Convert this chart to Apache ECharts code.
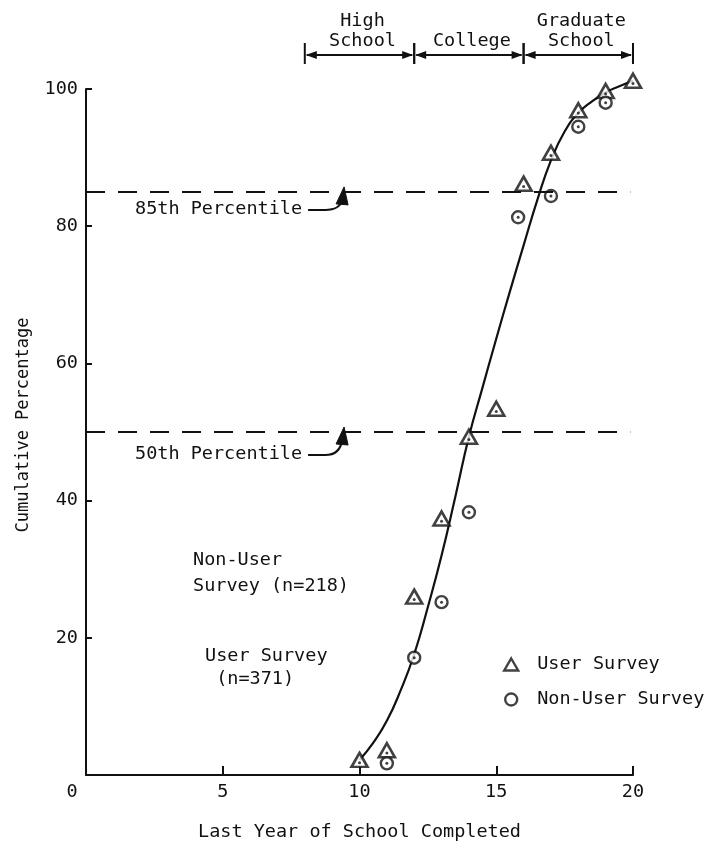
<!DOCTYPE html>
<html>
<head>
<meta charset="utf-8">
<script src="https://cdn.jsdelivr.net/npm/echarts@6/dist/echarts.min.js"></script>
<style>
  html, body { margin: 0; padding: 0; background: #fff; }
  #chart { width: 710px; height: 848px; }
</style>
</head>
<body>
<div id="chart"></div>
<script>
// Cumulative percentage of respondents by last year of school completed
const xTicks = [0, 5, 10, 15, 20];
const yTicks = [0, 20, 40, 60, 80, 100];

const userYears = [10, 11, 12, 13, 14, 15, 16, 17, 18, 19, 20];
const userPct   = [2.2, 3.6, 26.0, 37.4, 49.3, 53.4, 86.2, 90.7, 96.9, 99.7, 101.2];

const nonUserYears = [11, 12, 13, 14, 15.8, 17, 18, 19];
const nonUserPct   = [1.7, 17.1, 25.2, 38.3, 81.3, 84.4, 94.5, 98.0];

// hand-fitted cumulative curve
const curveYears = [10, 10.5, 11, 11.5, 12, 12.5, 13, 13.5, 14, 14.5, 15, 15.5, 16, 16.5, 17, 17.5, 18, 18.5, 19, 19.5, 20];
const curvePct   = [2.2, 4.7, 7.9, 12.3, 17.6, 24.5, 32.0, 40.5, 49.3, 56.5, 63.6, 70.5, 77.2, 83.8, 89.6, 93.8, 96.5, 98.2, 99.5, 100.4, 101.2];

const percentiles = [85, 50];
const percentileLabelSuffix = 'th Percentile';

const schoolStages = ['High\nSchool', 'College', 'Graduate\nSchool'];
const stageBounds  = [8, 12, 16, 20];

const FONT = 'DejaVu Sans Mono';
const FS = 18.5;
const INK = '#111';

const pairs = (xs, ys) => xs.map((x, i) => [x, ys[i]]);

const chart = echarts.init(document.getElementById('chart'));

const option = {
  backgroundColor: '#fff',
  animation: false,
  textStyle: { fontFamily: FONT, color: INK },
  grid: { left: 86, right: 77, top: 89, bottom: 73 },
  xAxis: {
    type: 'value', min: 0, max: 20, interval: 5,
    name: 'Last Year of School Completed',
    nameLocation: 'middle', nameGap: 48,
    nameTextStyle: { fontFamily: FONT, fontSize: FS, color: INK },
    axisLine: { show: true, onZero: false, lineStyle: { color: INK, width: 2 } },
    axisTick: { show: true, inside: true, length: 9, lineStyle: { color: INK, width: 2 } },
    axisLabel: {
      fontFamily: FONT, fontSize: FS, color: INK, margin: 8,
      formatter: v => (v === 0 ? '{o|0}' : String(v)),
      rich: { o: { fontFamily: FONT, fontSize: FS, color: INK, padding: [0, 28, 4, 0] } }
    },
    splitLine: { show: false }
  },
  yAxis: {
    type: 'value', min: 0, max: 100, interval: 20,
    name: 'Cumulative Percentage',
    nameLocation: 'middle', nameGap: 54, nameRotate: 90,
    nameTextStyle: { fontFamily: FONT, fontSize: 17, color: INK, padding: [0, 0, 0, 14] },
    axisLine: { show: true, onZero: false, lineStyle: { color: INK, width: 2 } },
    axisTick: { show: true, inside: true, length: 6, lineStyle: { color: INK, width: 2 } },
    axisLabel: {
      fontFamily: FONT, fontSize: FS, color: INK, margin: 8,
      formatter: v => (v === 0 ? '' : String(v))
    },
    splitLine: { show: false }
  },
  legend: {
    orient: 'vertical', left: 498, top: 650,
    itemWidth: 14, itemHeight: 12, itemGap: 16,
    data: ['User Survey', 'Non-User Survey'],
    textStyle: { fontFamily: FONT, fontSize: FS, color: INK, padding: [0, 0, 0, 14] },
    itemStyle: { borderWidth: 2.4, borderColor: INK, color: '#fff' }
  },
  series: [
    {
      name: 'curve',
      type: 'line',
      data: pairs(curveYears, curvePct),
      smooth: 0.5,
      showSymbol: false,
      clip: false,
      lineStyle: { color: INK, width: 2.2 },
      z: 2
    },
    {
      name: 'User Survey',
      type: 'scatter',
      data: pairs(userYears, userPct),
      symbol: 'triangle', symbolSize: [16, 14],
      clip: false,
      itemStyle: { color: '#fff', borderColor: INK, borderWidth: 2.6 },
      z: 4
    },
    {
      name: 'Non-User Survey',
      type: 'scatter',
      data: pairs(nonUserYears, nonUserPct),
      symbol: 'circle', symbolSize: 12,
      clip: false,
      itemStyle: { color: '#fff', borderColor: INK, borderWidth: 2.4 },
      z: 4
    },
    {
      name: 'user-centres',
      type: 'scatter',
      data: pairs(userYears, userPct).map(([x, y]) => [x, y - 0.4]),
      symbol: 'circle', symbolSize: 3,
      clip: false,
      itemStyle: { color: INK },
      z: 5
    },
    {
      name: 'nonuser-centres',
      type: 'scatter',
      data: pairs(nonUserYears, nonUserPct),
      symbol: 'circle', symbolSize: 3,
      clip: false,
      itemStyle: { color: INK },
      z: 5
    },
    {
      // percentile reference lines with their callouts
      name: 'percentiles',
      type: 'custom',
      clip: false,
      data: percentiles.map(p => [p]),
      markLine: {
        silent: true,
        symbol: ['none', 'none'],
        label: { show: false },
        lineStyle: { color: INK, width: 2, type: [19, 13] },
        data: percentiles.map(p => [{ coord: [0, p] }, { coord: [19.9, p] }])
      },
      renderItem: (params, api) => {
        const p = api.value(0);
        const base = api.coord([0, p]);
        const arrowX = api.coord([9.4, p])[0];
        const y = base[1];
        const dy = p > 60 ? 17 : 22;
        const ty = y + dy;
        const children = [
          {
            type: 'text',
            style: {
              text: p + percentileLabelSuffix,
              x: base[0] + 49, y: ty,
              textAlign: 'left', textVerticalAlign: 'middle',
              fontFamily: FONT, fontSize: FS, fill: INK
            }
          },
          {
            type: 'path',
            shape: {
              pathData: 'M' + (arrowX - 35) + ' ' + (ty + 1) +
                ' L' + (arrowX - 18) + ' ' + (ty + 1) +
                ' Q' + (arrowX - 3) + ' ' + (ty + 1) + ' ' + (arrowX - 1) + ' ' + (y + 8)
            },
            style: { stroke: INK, lineWidth: 2, fill: null }
          },
          {
            type: 'polygon',
            shape: { points: [[arrowX + 1, y - 5], [arrowX - 7, y + 12], [arrowX + 5, y + 13]] },
            style: { fill: INK, stroke: INK, lineWidth: 1 }
          }
        ];
        return { type: 'group', children };
      },
      z: 3
    },
    {
      // schooling level brackets above the plot
      name: 'stages',
      type: 'custom',
      clip: false,
      data: schoolStages.map((s, i) => [stageBounds[i], stageBounds[i + 1]]),
      renderItem: (params, api) => {
        const i = params.dataIndex;
        const x0 = api.coord([api.value(0), 100])[0];
        const x1 = api.coord([api.value(1), 100])[0];
        const y = api.coord([0, 100])[1] - 34;
        const ah = 11, aw = 4;
        return {
          type: 'group',
          children: [
            { type: 'line', shape: { x1: x0 + 2, y1: y, x2: x1 - 2, y2: y }, style: { stroke: INK, lineWidth: 2 } },
            { type: 'polygon', shape: { points: [[x0 + 1, y], [x0 + 1 + ah, y - aw], [x0 + 1 + ah, y + aw]] }, style: { fill: INK } },
            { type: 'polygon', shape: { points: [[x1 - 1, y], [x1 - 1 - ah, y - aw], [x1 - 1 - ah, y + aw]] }, style: { fill: INK } },
            { type: 'line', shape: { x1: x0, y1: y - 12, x2: x0, y2: y + 9 }, style: { stroke: INK, lineWidth: 2 } },
            { type: 'line', shape: { x1: x1, y1: y - 12, x2: x1, y2: y + 9 }, style: { stroke: INK, lineWidth: 2 } },
            {
              type: 'text',
              style: {
                text: schoolStages[i],
                x: (x0 + x1) / 2 + 3, y: y - 4,
                textAlign: 'center', textVerticalAlign: 'bottom',
                lineHeight: 20,
                fontFamily: FONT, fontSize: FS, fill: INK
              }
            }
          ]
        };
      },
      z: 3
    }
  ],
  graphic: [
    {
      type: 'text', left: 193, top: 547,
      style: { text: 'Non-User\nSurvey (n=218)', fontFamily: FONT, fontSize: FS, lineHeight: 26, fill: INK }
    },
    {
      type: 'text', left: 205, top: 645,
      style: { text: 'User Survey\n (n=371)', fontFamily: FONT, fontSize: FS, lineHeight: 23, fill: INK }
    }
  ]
};

chart.setOption(option);
</script>
</body>
</html>
